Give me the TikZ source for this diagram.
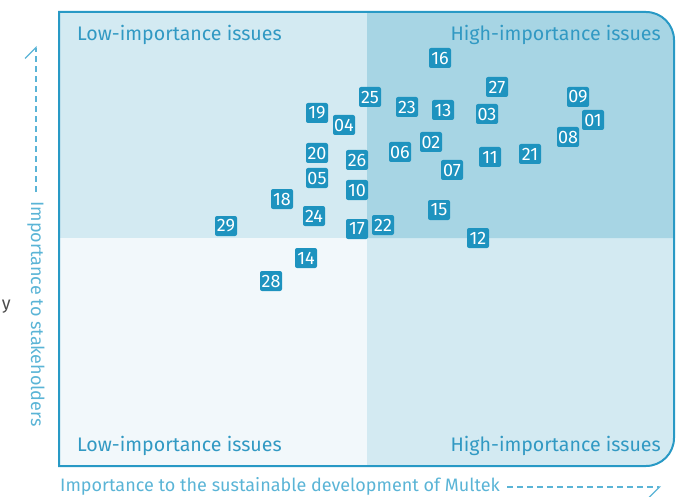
\documentclass[tikz,border=0pt]{standalone}
\usepackage{fontspec}
\setmainfont{Fira Sans}
\usetikzlibrary{arrows.meta,positioning}

\definecolor{frameblue}{HTML}{2899C5}
\definecolor{boxblue}{HTML}{1E93BF}
\definecolor{labblue}{HTML}{3199C3}
\definecolor{axblue}{HTML}{5AB4D6}
\definecolor{qlight}{HTML}{D3EAF2}
\definecolor{qdark}{HTML}{A7D5E4}
\definecolor{qpale}{HTML}{F2F8FB}

\tikzset{
  iss/.style={fill=boxblue,text=white,rounded corners=2pt,minimum width=22pt,
    minimum height=20pt,inner sep=0pt,font=\fontsize{18}{18}\selectfont},
  qlab/.style={text=labblue,inner sep=0pt,font=\fontsize{19.6}{19.6}\selectfont},
  axlab/.style={text=axblue,inner sep=0pt,font=\fontsize{18}{18}\selectfont},
  axline/.style={axblue,line width=1.2pt,dash pattern=on 6pt off 4pt}
}

\begin{document}
\begin{tikzpicture}[x=1pt,y=-1pt]
\useasboundingbox (0,0) rectangle (690,497);
% quadrants
\fill[qlight] (200,12) -- (59,12) -- (59,466) -- (200,466) [rounded corners=28pt] -- (674,466) -- (674,12) -- cycle;
\fill[qdark] (367,238) -- (367,12) -- (500,12) [rounded corners=28pt] -- (674,12) -- (674,100) [sharp corners] -- (674,238) -- cycle;
\fill[qpale] (59,238) rectangle (367,466);
\draw[frameblue,line width=2pt] (200,12) -- (59,12) -- (59,466) -- (200,466) [rounded corners=28pt] -- (674,466) -- (674,12) -- cycle;
\node[qlab,anchor=base west] (tl) at (77,41) {Low-importance issues};
\node[qlab,anchor=base east] (tr) at (661,41) {High-importance issues};
\node[qlab,anchor=base west] (bl) at (77,451) {Low-importance issues};
\node[qlab,anchor=base east] (br) at (661,451) {High-importance issues};
% axes
\node[axlab,anchor=base west] (xlab) at (60,491) {Importance to the sustainable development of Multek};
\node[axlab,rotate=-90] (ylab) at (36,314) {Importance to stakeholders};
\coordinate (xa) at (507,487);
\coordinate (xb) at (661,487);
\coordinate (ya) at (36,192);
\coordinate (yb) at (36,46);
\draw[axline,-{Straight Barb[right,length=11pt,width=22pt]}] (xa) -- (xb);
\draw[axline,-{Straight Barb[left,length=11pt,width=22pt]}] (ya) -- (yb);
\node[text=black!70,inner sep=0pt,anchor=base east,font=\fontsize{18}{18}\selectfont] (cut) at (11,309) {y};
% issues
\node[iss] (16) at (440,58) {16};
\node[iss] (27) at (497,87) {27};
\node[iss] (09) at (578,97) {09};
\node[iss] (01) at (593,120) {01};
\node[iss] (08) at (568,137) {08};
\node[iss] (25) at (370,97) {25};
\node[iss] (23) at (407,107) {23};
\node[iss] (13) at (443,110) {13};
\node[iss] (03) at (487,114) {03};
\node[iss] (19) at (317,113) {19};
\node[iss] (04) at (344,125) {04};
\node[iss] (02) at (431,142) {02};
\node[iss] (06) at (400,152) {06};
\node[iss] (20) at (317,153) {20};
\node[iss] (26) at (357,160) {26};
\node[iss] (07) at (452,170) {07};
\node[iss] (11) at (490,157) {11};
\node[iss] (21) at (530,154) {21};
\node[iss] (05) at (317,178) {05};
\node[iss] (10) at (357,190) {10};
\node[iss] (18) at (282,199) {18};
\node[iss] (15) at (439,210) {15};
\node[iss] (24) at (314,216) {24};
\node[iss] (29) at (226,226) {29};
\node[iss] (17) at (357,229) {17};
\node[iss] (22) at (383,225) {22};
\node[iss] (12) at (478,238) {12};
\node[iss] (14) at (306,258) {14};
\node[iss] (28) at (271,281) {28};
\end{tikzpicture}
\end{document}
